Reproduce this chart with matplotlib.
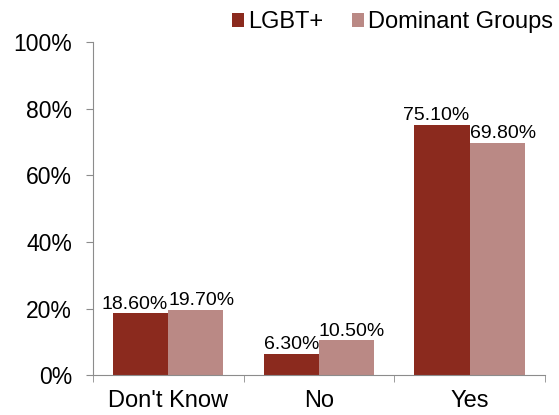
import numpy as np
import matplotlib.pyplot as plt

plt.rcParams['font.family'] = ['Liberation Sans', 'DejaVu Sans']

categories = ["Don't Know", "No", "Yes"]
lgbt = [18.6, 6.3, 75.1]
dominant = [19.7, 10.5, 69.8]
series_names = ["LGBT+", "Dominant Groups"]
c1 = "#8B2A1E"
c2 = "#BA8985"
grey = "#8C8C8C"

fig = plt.figure(figsize=(5.59, 4.15), dpi=100)
ax = fig.add_axes([0.166, 0.096, 0.809, 0.803])

x = np.arange(len(categories))
w = 0.367
b1 = ax.bar(x - w/2, lgbt, w, color=c1, label=series_names[0])
b2 = ax.bar(x + w/2, dominant, w, color=c2, label=series_names[1])

# labels pushed apart so neighbours don't collide (like the original)
for r, v in zip(b1, lgbt):
    ax.text(r.get_x() + r.get_width(), v + 0.2, "%.2f%%" % v,
            ha='right', va='bottom', fontsize=14)
for r, v in zip(b2, dominant):
    ax.text(r.get_x(), v + 0.2, "%.2f%%" % v,
            ha='left', va='bottom', fontsize=14)

ax.set_xlim(-0.5, 2.5)
ax.set_ylim(0, 100)
ax.set_yticks(np.arange(0, 101, 20))
ax.set_yticklabels(["%d%%" % t for t in range(0, 101, 20)], fontsize=16.5)
ax.set_xticks(x)
ax.set_xticklabels(categories, fontsize=17)
ax.tick_params(axis='x', which='major', length=0, pad=11)
ax.set_xticks([-0.5, 0.5, 1.5, 2.5], minor=True)
ax.tick_params(axis='x', which='minor', length=5, color=grey)
ax.tick_params(axis='y', length=5, color=grey, pad=10)

for s in ['top', 'right']:
    ax.spines[s].set_visible(False)
for s in ['left', 'bottom']:
    ax.spines[s].set_color(grey)

fig.legend(handles=[b1, b2], labels=series_names, loc='center right',
           bbox_to_anchor=(553/559, 1 - 22/415), ncol=2, frameon=False,
           fontsize=17, handlelength=0.52, handleheight=0.52, handletextpad=0.17,
           columnspacing=1.2, borderpad=0, borderaxespad=0)

fig.savefig('out.png', dpi=100)
